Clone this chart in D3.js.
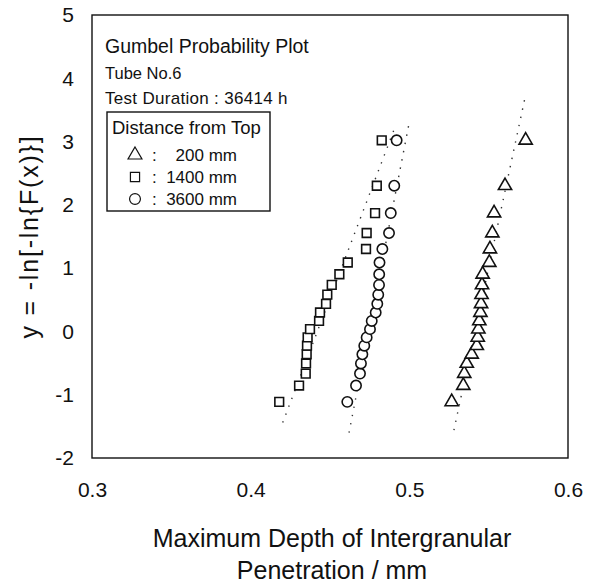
<!DOCTYPE html>
<html>
<head>
<meta charset="utf-8">
<script src="https://cdn.jsdelivr.net/npm/d3@7"></script>
<style>
  html, body { margin: 0; padding: 0; background: #fff; }
  svg { display: block; font-family: "Liberation Sans", Arial, sans-serif; }
</style>
</head>
<body>
<svg id="chart" width="590" height="584"></svg>
<script>
// Gumbel reduced variate y = -ln[-ln(i/(N+1))], N = 20 specimens per location
const reducedVariate = [-1.113, -0.855, -0.666, -0.506, -0.361, -0.225, -0.094, 0.036, 0.166, 0.299,
                        0.436, 0.581, 0.735, 0.903, 1.089, 1.302, 1.555, 1.870, 2.302, 3.020];

// Ranked maximum IGA depths (mm) at each distance from the tube top
const depth200 = [0.5267, 0.5340, 0.5346, 0.5362, 0.5393, 0.5425, 0.5431, 0.5435, 0.5441, 0.5448,
                  0.5452, 0.5455, 0.5458, 0.5462, 0.5504, 0.5508, 0.5523, 0.5534, 0.5603, 0.5733];
const depth1400 = [0.4180, 0.4305, 0.4347, 0.4349, 0.4353, 0.4355, 0.4359, 0.4374, 0.4431, 0.4437,
                   0.4475, 0.4483, 0.4511, 0.4559, 0.4612, 0.4727, 0.4731, 0.4784, 0.4795, 0.4826];
const depth3600 = [0.4609, 0.4664, 0.4689, 0.4695, 0.4704, 0.4716, 0.4731, 0.4752, 0.4763, 0.4788,
                   0.4798, 0.4804, 0.4809, 0.4810, 0.4812, 0.4830, 0.4872, 0.4883, 0.4905, 0.4920];

// Fitted Gumbel lines: [depth, y] at both ends
const fit200 = [[0.5281, -1.56], [0.5733, 3.74]];
const fit1400 = [[0.4202, -1.44], [0.4916, 3.27]];
const fit3600 = [[0.4620, -1.60], [0.5000, 3.31]];

const xTicks = [0.3, 0.4, 0.5, 0.6];
const yTicks = [-2, -1, 0, 1, 2, 3, 4, 5];

const seriesNames = ["200 mm", "1400 mm", "3600 mm"];
const headerLines = ["Gumbel Probability Plot", "Tube No.6", "Test Duration : 36414 h"];
const legendTitle = "Distance from Top";

const svg = d3.select("#chart");
const margin = { left: 92, top: 15, right: 22, bottom: 126 };
const W = 590, H = 584;

const x = d3.scaleLinear().domain([0.3, 0.6]).range([margin.left, W - margin.right]);
const y = d3.scaleLinear().domain([-2, 5]).range([H - margin.bottom, margin.top]);

// Plot frame
svg.append("rect")
  .attr("x", x(0.3)).attr("y", y(5))
  .attr("width", x(0.6) - x(0.3)).attr("height", y(-2) - y(5))
  .attr("fill", "none").attr("stroke", "#111").attr("stroke-width", 1.4);

// Axes (labels only, no tick marks)
const xAxis = svg.append("g")
  .attr("transform", `translate(0,${y(-2)})`)
  .call(d3.axisBottom(x).tickValues(xTicks).tickFormat(d => d.toFixed(1)).tickSize(0).tickPadding(24));
xAxis.select(".domain").remove();
xAxis.selectAll("text").attr("font-size", 21).attr("fill", "#111")
  .attr("font-family", "Liberation Sans, Arial, sans-serif");

const yAxis = svg.append("g")
  .attr("transform", `translate(${x(0.3)},0)`)
  .call(d3.axisLeft(y).tickValues(yTicks).tickFormat(d => String(d)).tickSize(0).tickPadding(18));
yAxis.select(".domain").remove();
yAxis.selectAll("text").attr("font-size", 21).attr("fill", "#111")
  .attr("font-family", "Liberation Sans, Arial, sans-serif");

// Axis titles
svg.append("text")
  .attr("x", (x(0.3) + x(0.6)) / 2 + 2).attr("y", 547)
  .attr("text-anchor", "middle").attr("font-size", 25).attr("fill", "#111")
  .text("Maximum Depth of Intergranular");
svg.append("text")
  .attr("x", (x(0.3) + x(0.6)) / 2 + 2).attr("y", 579)
  .attr("text-anchor", "middle").attr("font-size", 25).attr("fill", "#111")
  .text("Penetration / mm");
svg.append("text")
  .attr("transform", `translate(38,${(y(-2) + y(5)) / 2}) rotate(-90)`)
  .attr("text-anchor", "middle").attr("font-size", 25).attr("letter-spacing", 1.8)
  .attr("fill", "#111")
  .text("y = -ln[-ln{F(x)}]");

// Fitted lines (sparse dotted)
const line = d3.line().x(d => x(d[0])).y(d => y(d[1]));
[fit200, fit1400, fit3600].forEach(f => {
  svg.append("path").attr("d", line(f))
    .attr("fill", "none").attr("stroke", "#333")
    .attr("stroke-width", 1.4).attr("stroke-dasharray", "1.4 7");
});

// Data markers
const symbols = [d3.symbolTriangle, d3.symbolSquare, d3.symbolCircle];
const sizes = [76, 76, 84];
const allDepths = [depth200, depth1400, depth3600];

allDepths.forEach((depths, s) => {
  const sym = d3.symbol().type(symbols[s]).size(sizes[s]);
  svg.append("g").selectAll("path")
    .data(depths.map((d, i) => [d, reducedVariate[i]]))
    .join("path")
    .attr("transform", d => `translate(${x(d[0])},${y(d[1])})`)
    .attr("d", sym)
    .attr("fill", "#fff").attr("stroke", "#111").attr("stroke-width", 1.6);
});

// Header text
svg.append("text").attr("x", 105).attr("y", 53)
  .attr("font-size", 19.5).attr("fill", "#111").text(headerLines[0]);
svg.append("text").attr("x", 105).attr("y", 79)
  .attr("font-size", 16.5).attr("fill", "#111").text(headerLines[1]);
svg.append("text").attr("x", 105).attr("y", 104)
  .attr("font-size", 17).attr("fill", "#111").attr("letter-spacing", 0.3).text(headerLines[2]);

// Legend box
const lg = svg.append("g");
lg.append("rect").attr("x", 107).attr("y", 112).attr("width", 163).attr("height", 99)
  .attr("fill", "#fff").attr("stroke", "#111").attr("stroke-width", 1.4);
lg.append("text").attr("x", 112).attr("y", 134)
  .attr("font-size", 18.5).attr("fill", "#111").text(legendTitle);

const rowY = [155, 177, 199];
seriesNames.forEach((name, s) => {
  lg.append("path")
    .attr("transform", `translate(135,${rowY[s]})`)
    .attr("d", d3.symbol().type(symbols[s]).size(sizes[s] * 1.1))
    .attr("fill", "#fff").attr("stroke", "#111").attr("stroke-width", 1.2);
  lg.append("text").attr("x", 152).attr("y", rowY[s] + 6)
    .attr("font-size", 17).attr("fill", "#111").text(":");
  lg.append("text").attr("x", 237).attr("y", rowY[s] + 6)
    .attr("text-anchor", "end").attr("font-size", 17).attr("fill", "#111").text(name);
});
</script>
</body>
</html>
